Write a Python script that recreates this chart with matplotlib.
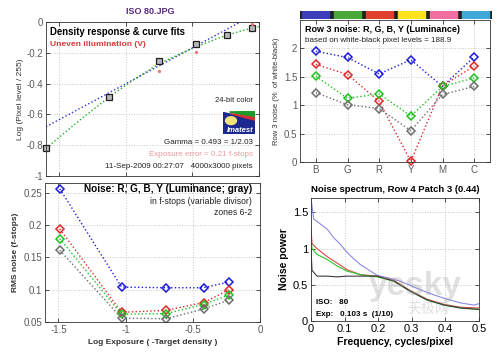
import matplotlib
matplotlib.use('Agg')
import matplotlib.pyplot as plt
from matplotlib.patches import Rectangle, Polygon, Circle

plt.rcParams['font.family'] = ['Liberation Sans', 'DejaVu Sans']

# ---------------- data ----------------
density_x = [-1.60, -1.13, -0.75, -0.47, -0.24, -0.05]
density_y = [-0.816, -0.487, -0.253, -0.145, -0.083, -0.041]
fit_lin_x = [-1.60, -0.14]
fit_lin_y = [-0.68, 0.0]
fit_curve_x = [-1.60, -1.35, -1.13, -0.95, -0.75, -0.60, -0.47, -0.35, -0.24, -0.12, 0.0]
fit_curve_y = [-0.82, -0.64, -0.49, -0.38, -0.27, -0.21, -0.16, -0.12, -0.085, -0.055, -0.03]
uneven_x = [-0.75, -0.47, -0.05]
uneven_y = [-0.316, -0.193, -0.013]

zone_x = [-1.49, -1.03, -0.70, -0.42, -0.23]
fnoise_b = [0.256, 0.104, 0.103, 0.103, 0.112]
fnoise_r = [0.194, 0.065, 0.068, 0.080, 0.100]
fnoise_g = [0.179, 0.062, 0.063, 0.077, 0.092]
fnoise_y = [0.161, 0.056, 0.055, 0.070, 0.084]

patch_labels = ['B', 'G', 'R', 'Y', 'M', 'C']
row3_b = [1.95, 1.84, 1.55, 1.80, 1.33, 1.85]
row3_r = [1.72, 1.54, 1.07, 0.01, 1.34, 1.69]
row3_g = [1.51, 1.12, 1.20, 0.81, 1.33, 1.48]
row3_y = [1.22, 1.01, 0.94, 0.55, 1.19, 1.33]
strip_colors = ['#3a3fb8', '#4aa83a', '#e0402e', '#ffe21e', '#f06ea0', '#3fa8d8']

spec_f_b = [0, 0.008, 0.028, 0.048, 0.068, 0.087, 0.107, 0.127, 0.147, 0.167, 0.197,
            0.227, 0.266, 0.296, 0.326, 0.366, 0.406, 0.445, 0.485, 0.5]
spec_b = [1.70, 1.41, 1.34, 1.27, 1.15, 1.06, 0.95, 0.86, 0.78, 0.72, 0.63,
          0.60, 0.55, 0.49, 0.43, 0.36, 0.30, 0.25, 0.22, 0.24]
spec_f = [0, 0.003, 0.018, 0.048, 0.078, 0.107, 0.147, 0.197, 0.247, 0.296, 0.346,
          0.396, 0.445, 0.5]
spec_r = [1.29, 1.07, 1.00, 0.89, 0.80, 0.71, 0.64, 0.62, 0.56, 0.42, 0.30, 0.23, 0.19, 0.18]
spec_g = [1.18, 1.00, 0.92, 0.85, 0.76, 0.69, 0.64, 0.61, 0.55, 0.41, 0.29, 0.22, 0.18, 0.16]
spec_k = [1.00, 0.70, 0.62, 0.62, 0.61, 0.62, 0.62, 0.62, 0.55, 0.41, 0.29, 0.22, 0.18, 0.16]

# ---------------- layout helpers ----------------
W, H = 500, 353
fig = plt.figure(figsize=(5.0, 3.53), dpi=100)


def box(l, t, r, b):
    return [l / W, 1 - b / H, (r - l) / W, (b - t) / H]


def ftext(x, y, s, **kw):
    fig.text(x / W, 1 - y / H, s, **kw)


GRAY = '#5a5a5a'
C_B, C_R, C_G, C_Y = '#1c1cd8', '#e02828', '#1ec21e', '#6e6e6e'


def style(ax, color=GRAY, size=7):
    ax.tick_params(direction='in', top=True, right=True, length=3, width=0.6,
                   labelsize=size, labelcolor=color, color='#333333', pad=2)
    ax.grid(True, linestyle=':', color='#c8c8c8', linewidth=0.7)
    for s in ax.spines.values():
        s.set_linewidth(0.6)
        s.set_color('#333333')


# ---------------- top-left: density response ----------------
ax1 = fig.add_axes(box(46, 22, 259, 176))
style(ax1)
ax1.plot(fit_lin_x, fit_lin_y, ':', color='#3030d0', lw=1.0)
ax1.plot(fit_curve_x, fit_curve_y, ':', color='#20b020', lw=1.0)
ax1.plot(density_x, density_y, 's', ms=4.5, mfc='#b8b8b8', mec='#202020', mew=0.9,
         clip_on=False)
ax1.plot(uneven_x, uneven_y, '.', ms=2.5, color='#f07070')
ax1.set_xlim(-1.6, 0)
ax1.set_ylim(-1, 0)
ax1.set_xticks([-1.5, -1, -0.5, 0])
ax1.set_xticklabels([])
ax1.set_yticks([-1, -0.8, -0.6, -0.4, -0.2, 0])
ax1.set_yticklabels(['-1', '-0.8', '-0.6', '-0.4', '-0.2', '0'])
ax1.set_ylabel('Log (Pixel level / 255)', fontsize=6, color='#333333', labelpad=2)

ftext(150, 12, 'ISO 80.JPG', fontsize=6.5, fontweight='bold', color='#5a2a80',
      ha='center', va='center')
ftext(50, 32, 'Density response & curve fits', fontsize=6.9, fontweight='bold',
      color='black', va='center')
ftext(50, 44, 'Uneven illumination (V)', fontsize=6.1, fontweight='bold',
      color='#d83a3a', va='center')
ftext(253, 100, '24-bit color', fontsize=5.5, color='#222222', ha='right', va='center')
ftext(253, 143, 'Gamma = 0.493 = 1/2.03', fontsize=5.8, color='#222222', ha='right',
      va='center')
ftext(253, 155, 'Exposure error = 0.21 f-stops', fontsize=5.8, color='#e89a9a',
      ha='right', va='center')
ftext(253, 167, '11-Sep-2009 00:27:07   4000x3000 pixels', fontsize=5.8,
      color='#222222', ha='right', va='center')

# Imatest logo
axl = fig.add_axes(box(223, 111, 255, 134))
axl.set_xlim(0, 1)
axl.set_ylim(0, 1)
axl.axis('off')
axl.add_patch(Rectangle((0, 0), 1, 1, color='#1a2890'))
axl.add_patch(Polygon([[0, 1], [1, 1], [1, 0.72], [0.15, 0.95]], color='white'))
axl.add_patch(Polygon([[0.2, 0.96], [1, 0.98], [1, 0.72]], color='#1e9a2a'))
axl.add_patch(Polygon([[0.25, 0.88], [1, 0.7], [1, 0.6]], color='#d83030'))
axl.add_patch(Circle((0.25, 0.58), 0.17, color='#f4e27a', transform=axl.transData))
axl.text(0.55, 0.15, 'Imatest', color='white', fontsize=5.5, fontweight='bold',
         style='italic', ha='center', va='center')

# ---------------- top-right: row 3 noise ----------------
pos = list(range(1, len(patch_labels) + 1))
axs = fig.add_axes(box(300, 11, 492, 19))
axs.set_xlim(0.5, 6.5)
axs.set_ylim(0, 1)
axs.axis('off')
axs.add_patch(Rectangle((0.5, 0), 6.0, 1, color='#202020'))
for p, c in zip(pos, strip_colors):
    axs.add_patch(Rectangle((p - 0.45, 0), 0.85, 1, color=c))

ax2 = fig.add_axes(box(300, 20, 490, 162))
style(ax2)
for vals, c in [(row3_b, C_B), (row3_r, C_R), (row3_g, C_G), (row3_y, C_Y)]:
    ax2.plot(pos, vals, ':', color=c, lw=1.0, marker='D', ms=4, mfc='none', mew=1.1,
             clip_on=False)
ax2.set_xlim(0.5, 6.5)
ax2.set_ylim(0, 2.5)
ax2.set_xticks(pos)
ax2.set_xticklabels(patch_labels)
ax2.set_yticks([0, 0.5, 1, 1.5, 2])
ax2.set_yticklabels(['0', '0.5', '1', '1.5', '2'])
ax2.set_ylabel('Row 3 noise (%  of white-black)', fontsize=5.5, color='#333333',
               labelpad=3)
ftext(305, 30, 'Row 3 noise: R, G, B, Y (Luminance)', fontsize=6.5, fontweight='bold',
      color='black', va='center')
ftext(305, 41, 'based on white-black pixel levels = 188.9', fontsize=5.8,
      color='#222222', va='center')

# ---------------- bottom-left: noise in f-stops ----------------
ax3 = fig.add_axes(box(45, 183, 260, 322))
style(ax3)
for vals, c in [(fnoise_b, C_B), (fnoise_r, C_R), (fnoise_g, C_G), (fnoise_y, C_Y)]:
    ax3.plot(zone_x, vals, ':', color=c, lw=1.0, marker='D', ms=4, mfc='none', mew=1.1)
ax3.set_xlim(-1.6, 0)
ax3.set_ylim(0.05, 0.265)
ax3.set_xticks([-1.5, -1, -0.5, 0])
ax3.set_xticklabels(['-1.5', '-1', '-0.5', '0'])
ax3.set_yticks([0.05, 0.1, 0.15, 0.2, 0.25])
ax3.set_yticklabels(['0.05', '0.1', '0.15', '0.2', '0.25'])
ax3.set_xlabel('Log Exposure ( -Target density )', fontsize=6, fontweight='bold',
               color='#333333', labelpad=3)
ax3.set_ylabel('RMS noise (f-stops)', fontsize=6, fontweight='bold', color='#333333',
               labelpad=3)
ftext(252, 189, 'Noise: R, G, B, Y (Luminance; gray)', fontsize=7.2, fontweight='bold',
      color='black', ha='right', va='center')
ftext(252, 202, 'in f-stops (variable divisor)', fontsize=6.2, color='#222222',
      ha='right', va='center')
ftext(252, 212, 'zones 6-2', fontsize=6.2, color='#222222', ha='right', va='center')

# ---------------- bottom-right: noise spectrum ----------------
ax4 = fig.add_axes(box(311, 198, 479, 321))
style(ax4, color='black', size=8)
ax4.plot(spec_f_b, spec_b, '-', color='#8a8ae8', lw=0.8)
ax4.plot(spec_f, spec_r, '-', color='#e04848', lw=0.8)
ax4.plot(spec_f, spec_g, '-', color='#28c828', lw=0.8)
ax4.plot(spec_f, spec_k, '-', color='#3a3a3a', lw=0.8)
ax4.set_xlim(0, 0.5)
ax4.set_ylim(0, 1.7)
ax4.set_xticks([0, 0.1, 0.2, 0.3, 0.4, 0.5])
ax4.set_xticklabels(['0', '0.1', '0.2', '0.3', '0.4', '0.5'])
ax4.set_yticks([0, 0.5, 1, 1.5])
ax4.set_yticklabels(['0', '0.5', '1', '1.5'])
ax4.set_title('Noise spectrum, Row 4 Patch 3 (0.44)', fontsize=6.8, fontweight='bold',
              pad=4)
ax4.set_xlabel('Frequency, cycles/pixel', fontsize=7.5, fontweight='bold', labelpad=2)
ax4.set_ylabel('Noise power', fontsize=7.5, fontweight='bold', labelpad=3)
ax4.text(0.03, 0.15, 'ISO:   80', transform=ax4.transAxes, fontsize=5.8,
         fontweight='bold', va='center')
ax4.text(0.03, 0.055, 'Exp:   0.103 s  (1/10)', transform=ax4.transAxes, fontsize=5.8,
         fontweight='bold', va='center')

# watermark
ftext(415, 286, 'yesky', fontsize=24, color='#999999', alpha=0.3, ha='center',
      va='center', fontweight='bold')
ftext(428, 309, '天极网', fontsize=10, color='#999999', alpha=0.3, ha='center',
      va='center', family=['Noto Sans CJK SC', 'DejaVu Sans'])

fig.savefig('out.png', dpi=100)
